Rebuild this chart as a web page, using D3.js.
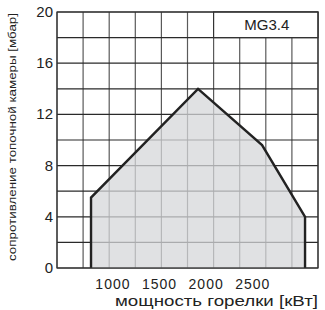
<!DOCTYPE html>
<html>
<head>
<meta charset="utf-8">
<script src="https://cdn.jsdelivr.net/npm/d3@7"></script>
<style>
    body { margin: 0; background: #fff; }
    text { font-family: "Liberation Sans", Arial, sans-serif; fill: #222; }
</style>
</head>
<body>
<div id="chart"></div>
<script>
// burner working field, kW vs mbar
var power = [765, 765, 1913, 2600, 3061, 3061];
var pressure = [0, 5.5, 14, 9.6, 4, 0];
var xTicks = [1000, 1500, 2000, 2500];
var yTicks = [0, 4, 8, 12, 16, 20];
var modelName = "MG3.4";
var xTitle = "мощность горелки [кВт]";
var yTitle = "сопротивление топочной камеры [мбар]";

function init() {
    var margin = {top: 12, right: 7, bottom: 42, left: 57},
        w = 325,
        h = 310,
        width = w - margin.left - margin.right,
        height = h - margin.top - margin.bottom;

    var data = power.map(function(p, i) {
        return {power: p, pressure: pressure[i]};
    });

    var xScale = d3.scaleLinear()
        .domain([400, 3200])
        .range([0, width]);

    var yScale = d3.scaleLinear()
        .domain([0, 20])
        .range([height, 0]);

    var svg = d3.select("#chart")
        .append("svg")
        .attr("width", w)
        .attr("height", h)
        .append("g")
        .attr("transform", "translate(" + margin.left + "," + margin.top + ")");

    // grid: 10 x 10 cells
    var xGrid = d3.range(11).map(function(i) { return 400 + i * 280; });
    var yGrid = d3.range(0, 21, 2);

    svg.selectAll(".vgrid")
        .data(xGrid)
        .enter().append("line")
        .attr("x1", d => xScale(d))
        .attr("x2", d => xScale(d))
        .attr("y1", 0)
        .attr("y2", height)
        .style("stroke", "#5a5a5a")
        .style("stroke-width", 1.2);

    svg.selectAll(".hgrid")
        .data(yGrid)
        .enter().append("line")
        .attr("x1", 0)
        .attr("x2", width)
        .attr("y1", d => yScale(d))
        .attr("y2", d => yScale(d))
        .style("stroke", "#2a2a2a")
        .style("stroke-width", 1.2);

    // label cell top right
    svg.append("rect")
        .attr("x", xScale(xGrid[6]))
        .attr("y", yScale(20))
        .attr("width", xScale(xGrid[10]) - xScale(xGrid[6]))
        .attr("height", yScale(18) - yScale(20))
        .style("fill", "#fff")
        .style("stroke", "#333")
        .style("stroke-width", 1.2);

    svg.append("text")
        .attr("x", (xScale(xGrid[6]) + xScale(xGrid[10])) / 2 + 1)
        .attr("y", yScale(19) + 5)
        .style("text-anchor", "middle")
        .style("font-size", "15px")
        .text(modelName);

    // working field
    var area = d3.line()
        .x(d => xScale(d.power))
        .y(d => yScale(d.pressure));

    svg.append("path")
        .datum(data)
        .attr("d", area)
        .style("fill", "#d6d7da")
        .style("fill-opacity", 0.75)
        .style("stroke", "#222")
        .style("stroke-width", 2.4)
        .style("stroke-linejoin", "miter");

    // frame
    svg.append("rect")
        .attr("width", width)
        .attr("height", height)
        .style("fill", "none")
        .style("stroke", "#333")
        .style("stroke-width", 1.2);

    // y ticks
    svg.selectAll(".ylab")
        .data(yTicks)
        .enter().append("text")
        .attr("x", -4)
        .attr("y", d => yScale(d) + 5)
        .style("text-anchor", "end")
        .style("font-size", "15px")
        .text(d => d);

    // x ticks
    svg.selectAll(".xlab")
        .data(xTicks)
        .enter().append("text")
        .attr("x", d => xScale(d))
        .attr("y", height + 21)
        .style("text-anchor", "middle")
        .style("font-size", "14px")
        .style("letter-spacing", "1px")
        .text(d => d);

    // axis titles
    svg.append("text")
        .attr("x", width)
        .attr("y", height + 38)
        .style("text-anchor", "end")
        .style("font-size", "14px")
        .attr("textLength", 203)
        .attr("lengthAdjust", "spacingAndGlyphs")
        .text(xTitle);

    svg.append("text")
        .attr("transform", "rotate(-90)")
        .attr("x", -height / 2 + 3)
        .attr("y", -margin.left + 16)
        .style("text-anchor", "middle")
        .style("font-size", "11px")
        .attr("textLength", 248)
        .attr("lengthAdjust", "spacingAndGlyphs")
        .text(yTitle);
}

init();
</script>
</body>
</html>
